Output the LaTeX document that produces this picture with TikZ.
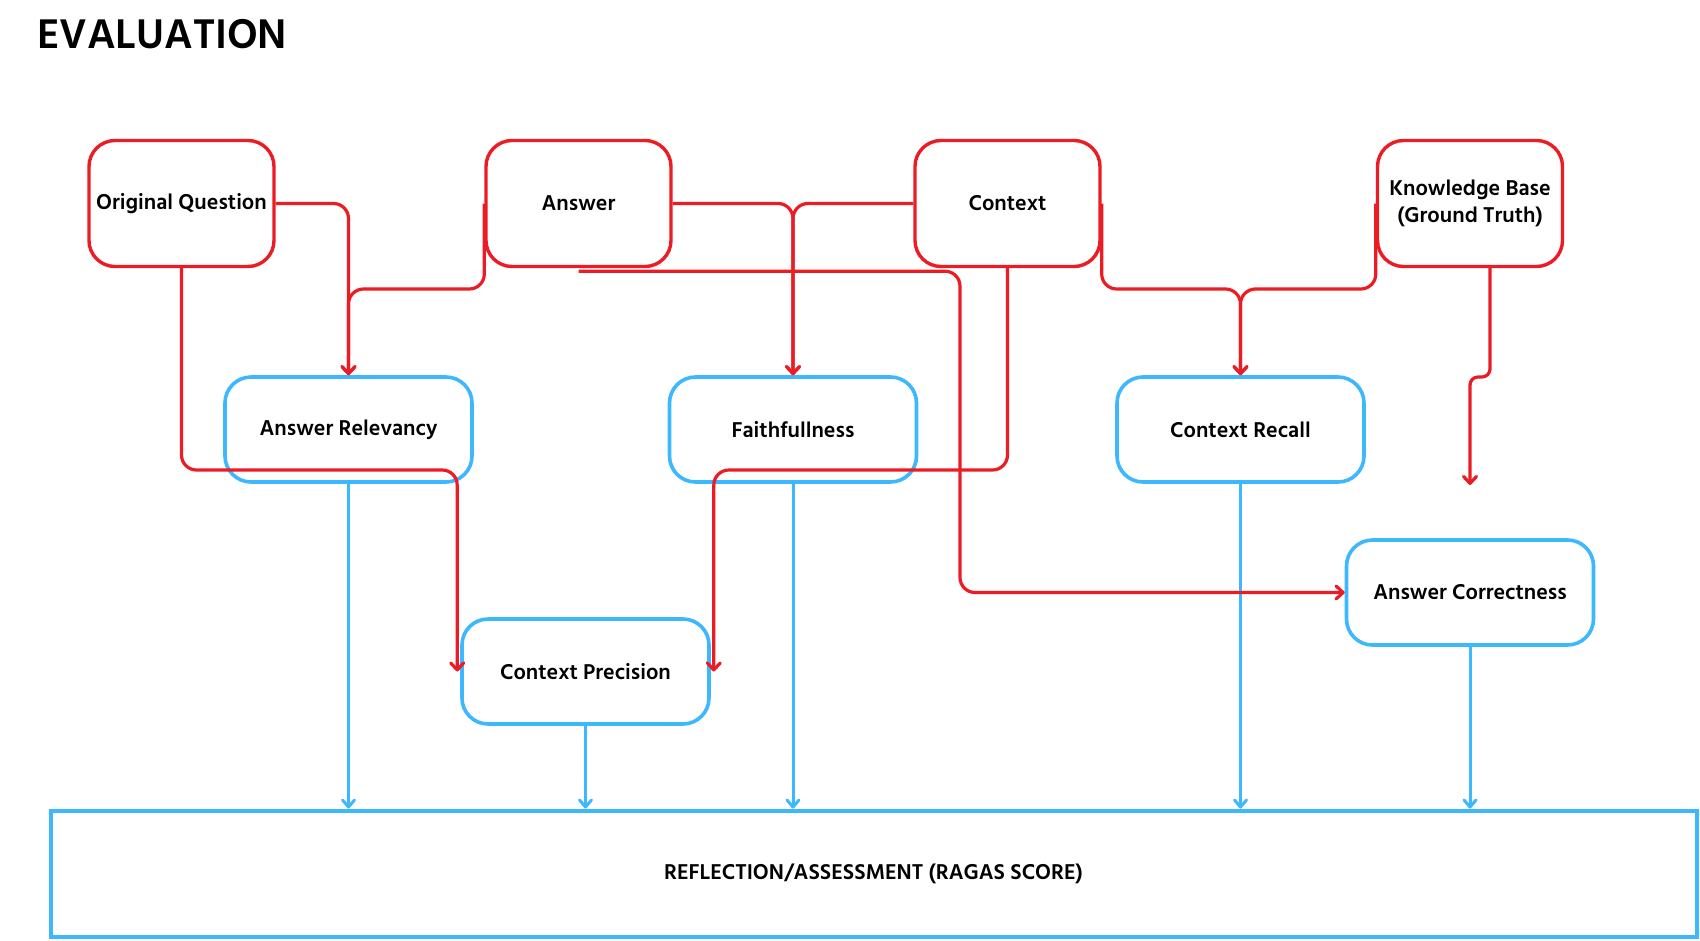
\documentclass[tikz,border=0pt]{standalone}
\usepackage{fontspec}
\setmainfont{Hind Siliguri}
\usetikzlibrary{arrows.meta,calc}
\definecolor{rd}{HTML}{EC1C24}
\definecolor{bl}{HTML}{3DB8FF}
\begin{document}
\begin{tikzpicture}[x=1pt,y=-1pt,
  lbl/.style={font=\bfseries\fontsize{22}{27}\selectfont},
  redbox/.style={draw=rd, line width=3.4pt, rounded corners=26pt, minimum width=185pt, minimum height=126pt, align=center, lbl},
  bluebox/.style={draw=bl, line width=3.6pt, rounded corners=26pt, minimum width=247pt, minimum height=105pt, align=center, lbl},
  redline/.style={draw=rd, line width=3.2pt, rounded corners=15pt},
  redarrow/.style={redline, -{Straight Barb[length=7pt,width=13pt,round]}},
  bluearrow/.style={draw=bl, line width=3pt, -{Straight Barb[length=7pt,width=12pt,round]}},
]
\useasboundingbox (0,0) rectangle (1700,940);
\node[anchor=base west, inner sep=0, font=\bfseries\fontsize{42.5}{50}\selectfont] (title) at (37,48) {EVALUATION};

\node[redbox] (oq) at (181.5,203.5) {Original Question};
\node[redbox] (ans) at (578.5,203.5) {Answer};
\node[redbox] (ctx) at (1007.5,203.5) {Context};
\node[redbox] (kb) at (1470,203.5) {Knowledge Base\\(Ground Truth)};

\node[bluebox] (ar) at (348.5,429.5) {Answer Relevancy};
\node[bluebox] (fa) at (793,429.5) {Faithfullness};
\node[bluebox] (cr) at (1240.5,429.5) {Context Recall};
\node[bluebox] (cp) at (585.5,671.5) {Context Precision};
\node[bluebox] (ac) at (1470,592.5) {Answer Correctness};

\node[draw=bl, line width=4pt, minimum width=1646pt, minimum height=126pt, font=\bfseries\fontsize{22}{26}\selectfont] (rs) at (873.5,873.5) {REFLECTION/ASSESSMENT (RAGAS SCORE)};

\foreach \n in {ar,cp,fa,cr,ac} \draw[bluearrow] (\n.south) -- (\n.south |- rs.north);

% red connectors
\coordinate (j1) at (ar.north |- 0,289);
\draw[redarrow] (oq.east) -| (ar.north);
\draw[redarrow] (ans.west) |- (j1) -- (ar.north);
\draw[redarrow] (ans.east) -| (fa.north);
\draw[redarrow] (ctx.west) -| (fa.north);
\coordinate (j4) at (cr.north |- 0,289);
\draw[redarrow] (ctx.east) |- (j4) -- (cr.north);
\draw[redarrow] (kb.west) |- (j4) -- (cr.north);

\coordinate (k1) at ($(kb.south)+(20,0)$);
\coordinate (kend) at (ac.north |- 0,485);
\draw[redarrow, rounded corners=8pt] (k1) -- (k1 |- 0,377) -- (kend |- 0,377) -- (kend);

\coordinate (p6) at ($(cp.west)+(-3,0)$);
\draw[redarrow] (oq.south) |- (p6 |- 0,470) -- (p6);
\coordinate (p7) at ($(cp.east)+(3,0)$);
\draw[redarrow] (ctx.south) |- (p7 |- 0,470) -- (p7);

\coordinate (s8) at ($(ans.south)+(0,3)$);
\coordinate (c8) at (ac.west -| 960,0);
\draw[redarrow] (s8) -| (c8) -- (ac.west);
\end{tikzpicture}
\end{document}
